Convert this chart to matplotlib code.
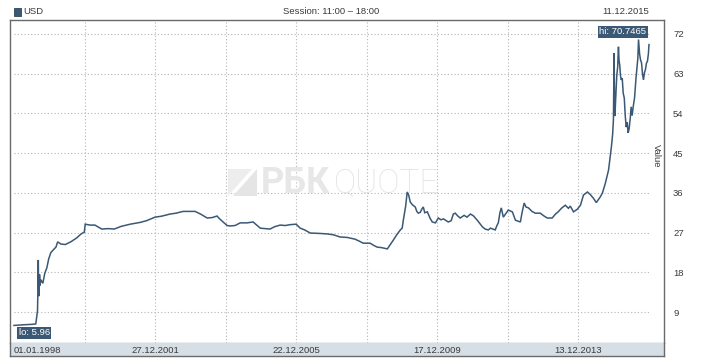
import matplotlib
matplotlib.use("Agg")
import matplotlib.pyplot as plt
import matplotlib.transforms as mtransforms
from matplotlib.patches import Rectangle, Polygon
import pandas as pd

# USD rate
dates = [
    "1998-01-01", "1998-04-01", "1998-07-01", "1998-08-14", "1998-08-24", "1998-09-01",
    "1998-09-04", "1998-09-09", "1998-09-12", "1998-09-16", "1998-09-22", "1998-09-26",
    "1998-10-06", "1998-10-26", "1998-11-15", "1998-12-06", "1998-12-25", "1999-01-15",
    "1999-02-07", "1999-03-10", "1999-03-28", "1999-05-01", "1999-06-15", "1999-08-10",
    "1999-10-11", "1999-11-25", "1999-12-28", "2000-01-06", "2000-02-25", "2000-04-15",
    "2000-06-25", "2000-09-01", "2000-11-01", "2001-01-10", "2001-04-14", "2001-07-25",
    "2001-10-01", "2001-12-27", "2002-03-01", "2002-05-31", "2002-08-01", "2002-10-13",
    "2002-12-15", "2003-02-13", "2003-04-10", "2003-06-18", "2003-08-08", "2003-09-28",
    "2003-10-20", "2003-11-29", "2004-01-10", "2004-02-08", "2004-04-01", "2004-05-23",
    "2004-08-01", "2004-10-04", "2004-11-05", "2004-12-17", "2005-02-01", "2005-03-28",
    "2005-05-10", "2005-07-10", "2005-09-01", "2005-10-22", "2005-12-22", "2006-02-02",
    "2006-03-20", "2006-05-16", "2006-08-26", "2006-11-06", "2007-01-10", "2007-03-21",
    "2007-06-01", "2007-08-23", "2007-10-10", "2007-11-13", "2008-01-24", "2008-03-01",
    "2008-04-07", "2008-05-20", "2008-07-20", "2008-08-20", "2008-09-20", "2008-10-25",
    "2008-12-01", "2008-12-20", "2009-01-01", "2009-01-25", "2009-02-10", "2009-02-25",
    "2009-03-14", "2009-04-05", "2009-05-04", "2009-05-20", "2009-06-05", "2009-06-25",
    "2009-07-10", "2009-07-26", "2009-08-10", "2009-09-06", "2009-10-05", "2009-10-27",
    "2009-11-28", "2009-12-28", "2010-01-25", "2010-02-20", "2010-04-10", "2010-05-10",
    "2010-06-01", "2010-06-21", "2010-07-15", "2010-08-11", "2010-09-20", "2010-10-20",
    "2010-11-24", "2010-12-25", "2011-02-03", "2011-03-28", "2011-04-25", "2011-05-27",
    "2011-06-20", "2011-07-15", "2011-08-07", "2011-08-25", "2011-09-08", "2011-09-25",
    "2011-10-09", "2011-10-30", "2011-11-25", "2011-12-20", "2012-01-31", "2012-03-03",
    "2012-04-23", "2012-05-10", "2012-06-01", "2012-06-20", "2012-07-15", "2012-08-20",
    "2012-09-24", "2012-11-14", "2012-12-20", "2013-01-25", "2013-03-17", "2013-04-20",
    "2013-05-18", "2013-06-25", "2013-07-30", "2013-09-01", "2013-09-20", "2013-10-23",
    "2013-12-02", "2014-01-03", "2014-02-03", "2014-03-16", "2014-04-15", "2014-05-16",
    "2014-06-15", "2014-07-27", "2014-08-18", "2014-09-17", "2014-10-20", "2014-11-10",
    "2014-11-18", "2014-12-01", "2014-12-09", "2014-12-16", "2014-12-19", "2014-12-25",
    "2014-12-30", "2015-01-13", "2015-01-22", "2015-01-30", "2015-02-05", "2015-02-12",
    "2015-02-20", "2015-02-28", "2015-03-10", "2015-03-20", "2015-03-31", "2015-04-10",
    "2015-04-20", "2015-04-30", "2015-05-10", "2015-05-20", "2015-06-01", "2015-06-10",
    "2015-06-20", "2015-07-01", "2015-07-15", "2015-07-30", "2015-08-10", "2015-08-18",
    "2015-08-25", "2015-09-05", "2015-09-15", "2015-09-25", "2015-10-05", "2015-10-15",
    "2015-10-25", "2015-11-05", "2015-11-15", "2015-11-25", "2015-12-05", "2015-12-11",
]
values = [
    5.96, 6.1, 6.2, 6.3, 7.9, 9.3,
    13.0, 20.8, 14.5, 12.6, 17.5, 15.0,
    16.3, 15.5, 17.8, 19.0, 21.0, 22.4,
    23.0, 23.7, 24.9, 24.4, 24.3, 24.9,
    25.8, 26.7, 27.1, 28.9, 28.7, 28.7,
    27.8, 27.9, 27.8, 28.4, 28.9, 29.3,
    29.7, 30.5, 30.7, 31.2, 31.4, 31.8,
    31.8, 31.8, 31.2, 30.3, 30.4, 30.75,
    30.2, 29.4, 28.6, 28.5, 28.6, 29.2,
    29.2, 29.4, 28.8, 28.0, 27.9, 27.8,
    28.3, 28.7, 28.6, 28.8, 28.9, 28.0,
    27.6, 26.9, 26.8, 26.7, 26.5, 26.0,
    25.9, 25.5, 25.0, 24.6, 24.6, 24.1,
    23.7, 23.6, 23.3, 24.3, 25.3, 26.5,
    27.6, 28.0, 29.8, 33.0, 36.2, 35.5,
    33.9, 33.3, 32.8, 31.8, 31.4, 31.6,
    32.3, 32.8, 31.5, 31.7, 30.2, 29.4,
    29.2, 30.3, 29.9, 30.1, 29.4, 29.7,
    31.2, 31.4, 30.8, 30.3, 30.9, 30.5,
    31.2, 30.8, 29.8, 28.3, 27.8, 27.6,
    28.0, 27.8, 27.6, 28.6, 29.2, 31.5,
    32.6, 30.5, 31.3, 32.1, 31.7, 29.8,
    29.4, 31.5, 33.7, 32.8, 32.6, 31.8,
    31.4, 31.4, 30.8, 30.3, 30.3, 31.2,
    31.7, 32.6, 33.2, 32.5, 33.0, 31.7,
    32.3, 33.2, 35.5, 36.2, 35.6, 34.8,
    33.8, 35.1, 36.0, 38.2, 41.2, 45.0,
    46.4, 49.3, 52.5, 67.7, 60.0, 53.4,
    56.2, 62.7, 64.5, 69.1, 66.0, 65.0,
    62.5, 61.6, 62.0, 58.6, 57.5, 53.5,
    50.9, 52.0, 49.6, 50.5, 53.0, 55.5,
    53.5, 55.5, 57.5, 62.0, 64.5, 66.5,
    70.7465, 67.5, 66.1, 65.5, 63.0, 61.6,
    63.2, 64.0, 65.4, 65.8, 67.5, 69.6,
]
y_ticks = [9, 18, 27, 36, 45, 54, 63, 72]
grid_dates = ["1999-12-30", "2001-12-27", "2003-12-25", "2005-12-22",
              "2007-12-20", "2009-12-17", "2011-12-15", "2013-12-13"]
label_dates = ["1998-01-01", "2001-12-27", "2005-12-22", "2009-12-17", "2013-12-13"]
date_labels = ["01.01.1998", "27.12.2001", "22.12.2005", "17.12.2009", "13.12.2013"]

LINE = "#3b5875"
GRID = "#b5b5b5"
TXT = "#3a3a3a"
FONT = "Liberation Sans"
FS = 6.8

W, H = 718, 360
fig = plt.figure(figsize=(W / 100, H / 100), dpi=100)


def fx(px):
    return px / W


def fy(py):
    return 1 - py / H


x = pd.to_datetime(dates)
start, end = x[0], x[-1]
xlim = (start - pd.Timedelta(days=41), end + pd.Timedelta(days=155))

ax = fig.add_axes([fx(10), fy(343), 654 / W, 323 / H])
ax.plot(x, values, color=LINE, lw=1.1, zorder=3, solid_joinstyle="miter")
ax.set_xlim(*xlim)
ax.set_ylim(1.98, 75.17)
ax.hlines(y_ticks, start, end, colors=GRID, linestyles=(0, (1, 2)), lw=0.8, zorder=1)
for d in grid_dates:
    ax.axvline(pd.Timestamp(d), color=GRID, ls=(0, (1, 2)), lw=0.8, zorder=1)

ax.yaxis.tick_right()
ax.set_yticks(y_ticks)
ax.tick_params(axis="y", length=0, pad=6.5, labelsize=FS, labelcolor=TXT)
ax.tick_params(axis="x", bottom=False, labelbottom=False)
for lab in ax.get_yticklabels():
    lab.set_fontfamily(FONT)
for s in ax.spines.values():
    s.set_color("#6a6a6a")
    s.set_linewidth(1.0)
ax.spines["bottom"].set_color("#9aa3ad")

# hi / lo labels
i_hi = values.index(max(values))
i_lo = values.index(min(values))
box = dict(boxstyle="square,pad=0.15", fc=LINE, ec="none")
ax.annotate(f"hi: {values[i_hi]}", xy=(x[i_hi], values[i_hi]), xytext=(5.5, 5.5),
            textcoords="offset points", ha="right", va="center", color="white",
            fontsize=FS, family=FONT, bbox=box, zorder=5)
ax.annotate(f"lo: {values[i_lo]}", xy=(x[i_lo], values[i_lo]), xytext=(3.5, -5.3),
            textcoords="offset points", ha="left", va="center", color="white",
            fontsize=FS, family=FONT, bbox=box, zorder=5)

# date strip
strip = fig.add_axes([fx(10), fy(356), 654 / W, 13 / H])
strip.set_facecolor("#d6dee6")
strip.set_xlim(*xlim)
strip.set_ylim(0, 1)
strip.set_xticks([])
strip.set_yticks([])
for s in strip.spines.values():
    s.set_color("#6a6a6a")
    s.set_linewidth(1.0)
strip.spines["top"].set_visible(False)
trans = mtransforms.blended_transform_factory(strip.transData, strip.transAxes)
for i, (d, lab) in enumerate(zip(label_dates, date_labels)):
    strip.text(pd.Timestamp(d), 0.45, lab, transform=trans, ha="left" if i == 0 else "center",
               va="center", fontsize=FS, family=FONT, color=TXT)

# header
fig.patches.append(Rectangle((fx(14), fy(16)), 7 / W, 8 / H, transform=fig.transFigure,
                             fc=LINE, ec="#2c4560", lw=0.6))
fig.text(fx(23), fy(12), "USD", fontsize=FS, family=FONT, color=TXT, va="center")
fig.text(fx(331), fy(12), "Session: 11:00 \u2013 18:00", fontsize=FS, family=FONT,
         color=TXT, va="center", ha="center")
fig.text(fx(649), fy(12), "11.12.2015", fontsize=FS, family=FONT, color=TXT,
         va="center", ha="right")
fig.text(fx(656), fy(156), "Value", rotation=270, fontsize=FS, family=FONT, color=TXT,
         va="center", ha="center")

# watermark
fig.patches.append(Polygon([(fx(228), fy(196)), (fx(228), fy(169)), (fx(252), fy(169))],
                           closed=True, transform=fig.transFigure, fc="#ededed", ec="none"))
fig.patches.append(Polygon([(fx(233), fy(196)), (fx(257), fy(169)), (fx(257), fy(196))],
                           closed=True, transform=fig.transFigure, fc="#e5e5e5", ec="none"))
fig.text(fx(261), fy(183), "\u0420\u0411\u041a", fontsize=26, family="Roboto",
         weight="bold", color="#e7e7e7", va="center", ha="left")
fig.text(fx(334), fy(183), "QUOTE", fontsize=24, family="Roboto", weight="light",
         color="#e3e3e3", va="center", ha="left")

fig.savefig("out.png", dpi=100, facecolor="white")
